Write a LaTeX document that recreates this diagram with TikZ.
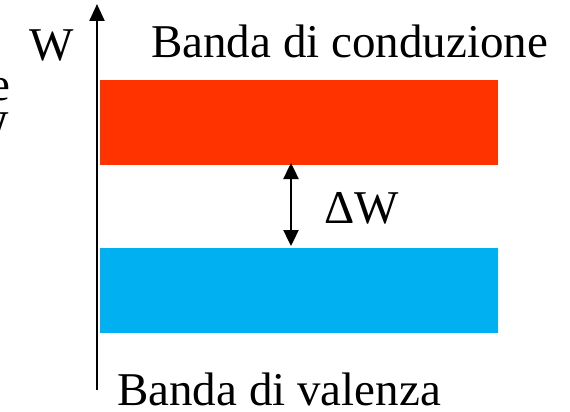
\documentclass[tikz,border=0pt]{standalone}
\usepackage{fontspec}
\setmainfont{Liberation Serif}
\usetikzlibrary{arrows.meta}
\begin{document}
\begin{tikzpicture}[x=1pt,y=-1pt,
  lbl/.style={inner sep=0pt,font=\fontsize{47}{56}\selectfont},
  band/.style={draw=none,minimum width=398pt,minimum height=85pt,inner sep=0pt,anchor=north west},
  axis/.style={line width=2.4pt,-{Triangle[length=17pt,width=15pt]}},
  gap/.style={line width=2.4pt,{Triangle[length=16pt,width=15pt]}-{Triangle[length=16pt,width=15pt]}}]
\useasboundingbox (0,0) rectangle (570,412);
% energy bands
\node[band,fill={rgb,255:red,255;green,51;blue,0}] (cb) at (100,80) {};
\node[band,fill={rgb,255:red,0;green,176;blue,240}] (vb) at (100,248) {};
% energy axis
\coordinate (ax0) at (97,390);
\coordinate (ax1) at (97,4);
\draw[axis] (ax0) -- (ax1);
% band gap
\coordinate (g1) at (291,163);
\coordinate (g2) at (291,246);
\draw[gap] (g1) -- (g2);
% labels
\node[lbl,anchor=base west] (w) at (29,60) {W};
\node[lbl,anchor=base west] (tcb) at (151,58) {Banda di conduzione};
\node[lbl,anchor=base west] (dw) at (324,223) {ΔW};
\node[lbl,anchor=base west] (tvb) at (117,405) {Banda di valenza};
\node[lbl,anchor=base east] (l1) at (11,100) {e};
\node[lbl,anchor=base east] (l2) at (9,143) {W};
\end{tikzpicture}
\end{document}
